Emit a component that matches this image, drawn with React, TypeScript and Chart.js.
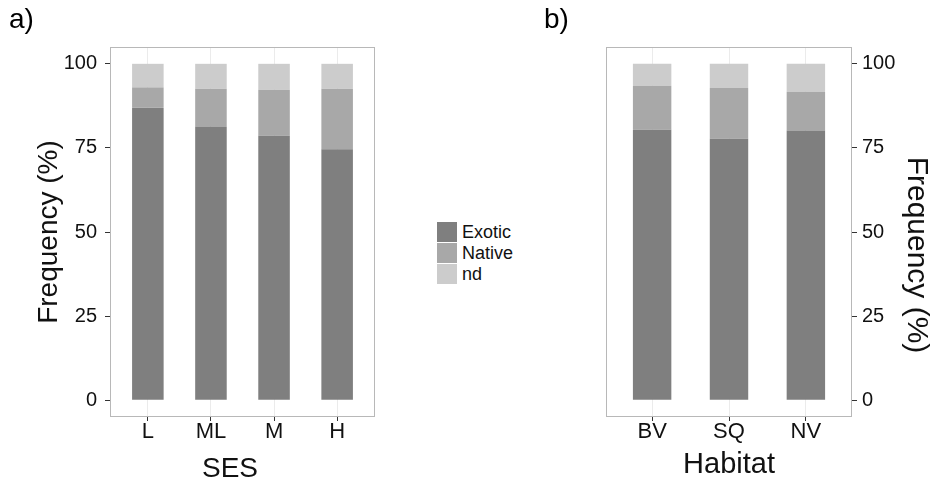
import React, { useEffect, useRef } from "react";
import { Chart, registerables } from "chart.js";

Chart.register(...registerables);

// ---------- data ----------
const sesCategories = ["L", "ML", "M", "H"];
const sesExotic = [86.9, 81.4, 78.6, 74.6];
const sesNative = [6.1, 11.2, 13.7, 18.0];
const sesNd = [7.0, 7.4, 7.7, 7.4];

const habitatCategories = ["BV", "SQ", "NV"];
const habitatExotic = [80.4, 77.7, 80.2];
const habitatNative = [13.1, 15.1, 11.5];
const habitatNd = [6.5, 7.2, 8.3];

const yTickValues = [0, 25, 50, 75, 100];
const seriesNames = ["Exotic", "Native", "nd"];
const seriesColors = ["#7f7f7f", "#a8a8a8", "#cccccc"];

// ---------- style ----------
const FONT = "'Liberation Sans', Arial, Helvetica, sans-serif";
const TEXT = "#111111";
const TICK = "#333333";
const GRID = "#ebebeb";
const BORDER = "#b8b8b8";

type TextItem = { text: string; x: number; y: number; size: number; rotation?: number };

function textPlugin(id: string, items: (chart: any) => TextItem[]) {
  return {
    id,
    afterDraw(chart: any) {
      const ctx = chart.ctx;
      for (const t of items(chart)) {
        ctx.save();
        ctx.translate(t.x, t.y);
        if (t.rotation) ctx.rotate(t.rotation);
        ctx.font = `${t.size}px ${FONT}`;
        ctx.fillStyle = TEXT;
        ctx.textAlign = "center";
        ctx.textBaseline = "alphabetic";
        ctx.fillText(t.text, 0, 0);
        ctx.restore();
      }
    },
  };
}

const panelBorder = {
  id: "panelBorder",
  afterDatasetsDraw(chart: any) {
    const { ctx, chartArea: a } = chart;
    ctx.save();
    ctx.strokeStyle = BORDER;
    ctx.lineWidth = 1;
    ctx.strokeRect(
      Math.round(a.left) + 0.5,
      Math.round(a.top) + 0.5,
      Math.round(a.right - a.left) - 1,
      Math.round(a.bottom - a.top) - 1
    );
    ctx.restore();
  },
};

function buildConfig(opts: {
  categories: string[];
  series: number[][];
  yPosition: "left" | "right";
  yWidth: number;
  padding: { left: number; right: number; top: number; bottom: number };
  xTitle?: string;
  yTitle?: string;
  yTitlePad?: number;
  xTitlePad?: number;
  plugins: any[];
}) {
  const { categories } = opts;
  return {
    type: "bar" as const,
    data: {
      datasets: opts.series.map((vals, si) => ({
        label: seriesNames[si],
        data: vals.map((v, i) => ({ x: i + 1, y: v })),
        backgroundColor: seriesColors[si],
        borderWidth: 0,
        categoryPercentage: 1,
        barPercentage: 0.5,
      })),
    },
    options: {
      animation: false,
      responsive: false,
      maintainAspectRatio: false,
      layout: { padding: opts.padding },
      plugins: {
        legend: { display: false },
        tooltip: { enabled: false },
        title: { display: false },
      },
      scales: {
        x: {
          type: "linear",
          stacked: true,
          offset: false,
          min: 0.4,
          max: categories.length + 0.6,
          afterBuildTicks: (axis: any) => {
            axis.ticks = categories.map((_, i) => ({ value: i + 1 }));
          },
          afterFit: (s: any) => {
            s.height = 69;
          },
          grid: {
            offset: false,
            color: GRID,
            lineWidth: 1,
            drawTicks: true,
            tickLength: 4,
            tickColor: TICK,
            tickWidth: 1,
          },
          border: { display: false },
          ticks: {
            autoSkip: false,
            maxRotation: 0,
            padding: 0,
            color: TEXT,
            font: { family: FONT, size: 22, lineHeight: 1 },
            callback: (v: any) => categories[Math.round(Number(v)) - 1] ?? "",
          },
          title: opts.xTitle
            ? {
                display: true,
                text: opts.xTitle,
                color: TEXT,
                font: { family: FONT, size: 29 },
                padding: { top: 0, bottom: opts.xTitlePad ?? 0 },
              }
            : { display: false },
        },
        y: {
          type: "linear",
          position: opts.yPosition,
          stacked: true,
          min: -5,
          max: 105,
          afterBuildTicks: (axis: any) => {
            axis.ticks = yTickValues.map((v) => ({ value: v }));
          },
          afterFit: (s: any) => {
            s.width = opts.yWidth;
          },
          grid: {
            drawOnChartArea: false,
            drawTicks: true,
            tickLength: 5,
            tickColor: TICK,
            tickWidth: 1,
          },
          border: { display: false },
          ticks: {
            padding: opts.yPosition === "left" ? 8 : 5,
            color: TEXT,
            font: { family: FONT, size: 20, lineHeight: 1 },
            callback: (v: any) => String(v),
          },
          title: opts.yTitle
            ? {
                display: true,
                text: opts.yTitle,
                color: TEXT,
                font: { family: FONT, size: 28 },
                padding: { top: opts.yTitlePad ?? 0, bottom: 0 },
              }
            : { display: false },
        },
      },
    },
    plugins: [panelBorder, ...opts.plugins],
  };
}

export default function App() {
  const refA = useRef<HTMLCanvasElement>(null);
  const refB = useRef<HTMLCanvasElement>(null);

  useEffect(() => {
    document.body.style.margin = "0";
    const chartA = new Chart(
      refA.current as HTMLCanvasElement,
      buildConfig({
        categories: sesCategories,
        series: [sesExotic, sesNative, sesNd],
        yPosition: "left",
        yWidth: 110,
        padding: { left: 0, right: 25, top: 47, bottom: 0 },
        yTitle: "Frequency (%)",
        yTitlePad: 32,
        plugins: [
          textPlugin("sesTitle", (c) => [
            { text: "SES", x: c.chartArea.left + 120, y: c.chartArea.bottom + 60, size: 28 },
          ]),
        ],
      }) as any
    );
    const chartB = new Chart(
      refB.current as HTMLCanvasElement,
      buildConfig({
        categories: habitatCategories,
        series: [habitatExotic, habitatNative, habitatNd],
        yPosition: "right",
        yWidth: 83,
        padding: { left: 71, right: 0, top: 47, bottom: 0 },
        xTitle: "Habitat",
        xTitlePad: 4,
        plugins: [
          textPlugin("rightTitle", (c) => [
            {
              text: "Frequency (%)",
              x: c.chartArea.right + 56,
              y: (c.chartArea.top + c.chartArea.bottom) / 2 + 23,
              size: 30,
              rotation: Math.PI / 2,
            },
          ]),
        ],
      }) as any
    );
    return () => {
      chartA.destroy();
      chartB.destroy();
    };
  }, []);

  const legendTops = [222, 243, 264];

  return (
    <div
      style={{
        position: "fixed",
        left: 0,
        top: 0,
        width: 935,
        height: 486,
        background: "#ffffff",
        fontFamily: FONT,
        color: TEXT,
      }}
    >
      <canvas
        ref={refA}
        width={400}
        height={486}
        style={{ position: "absolute", left: 0, top: 0, width: 400, height: 486 }}
      />
      <canvas
        ref={refB}
        width={400}
        height={486}
        style={{ position: "absolute", left: 535, top: 0, width: 400, height: 486 }}
      />
      <div style={{ position: "absolute", left: 9, top: 5, fontSize: 28, lineHeight: "28px", color: "#000" }}>
        a)
      </div>
      <div style={{ position: "absolute", left: 544, top: 5, fontSize: 28, lineHeight: "28px", color: "#000" }}>
        b)
      </div>
      {seriesNames.map((name, i) => (
        <React.Fragment key={name}>
          <div
            style={{
              position: "absolute",
              left: 437,
              top: legendTops[i],
              width: 20,
              height: 20,
              background: seriesColors[i],
            }}
          />
          <div
            style={{
              position: "absolute",
              left: 462,
              top: legendTops[i],
              height: 20,
              lineHeight: "20px",
              fontSize: 18,
              whiteSpace: "nowrap",
            }}
          >
            {name}
          </div>
        </React.Fragment>
      ))}
    </div>
  );
}
